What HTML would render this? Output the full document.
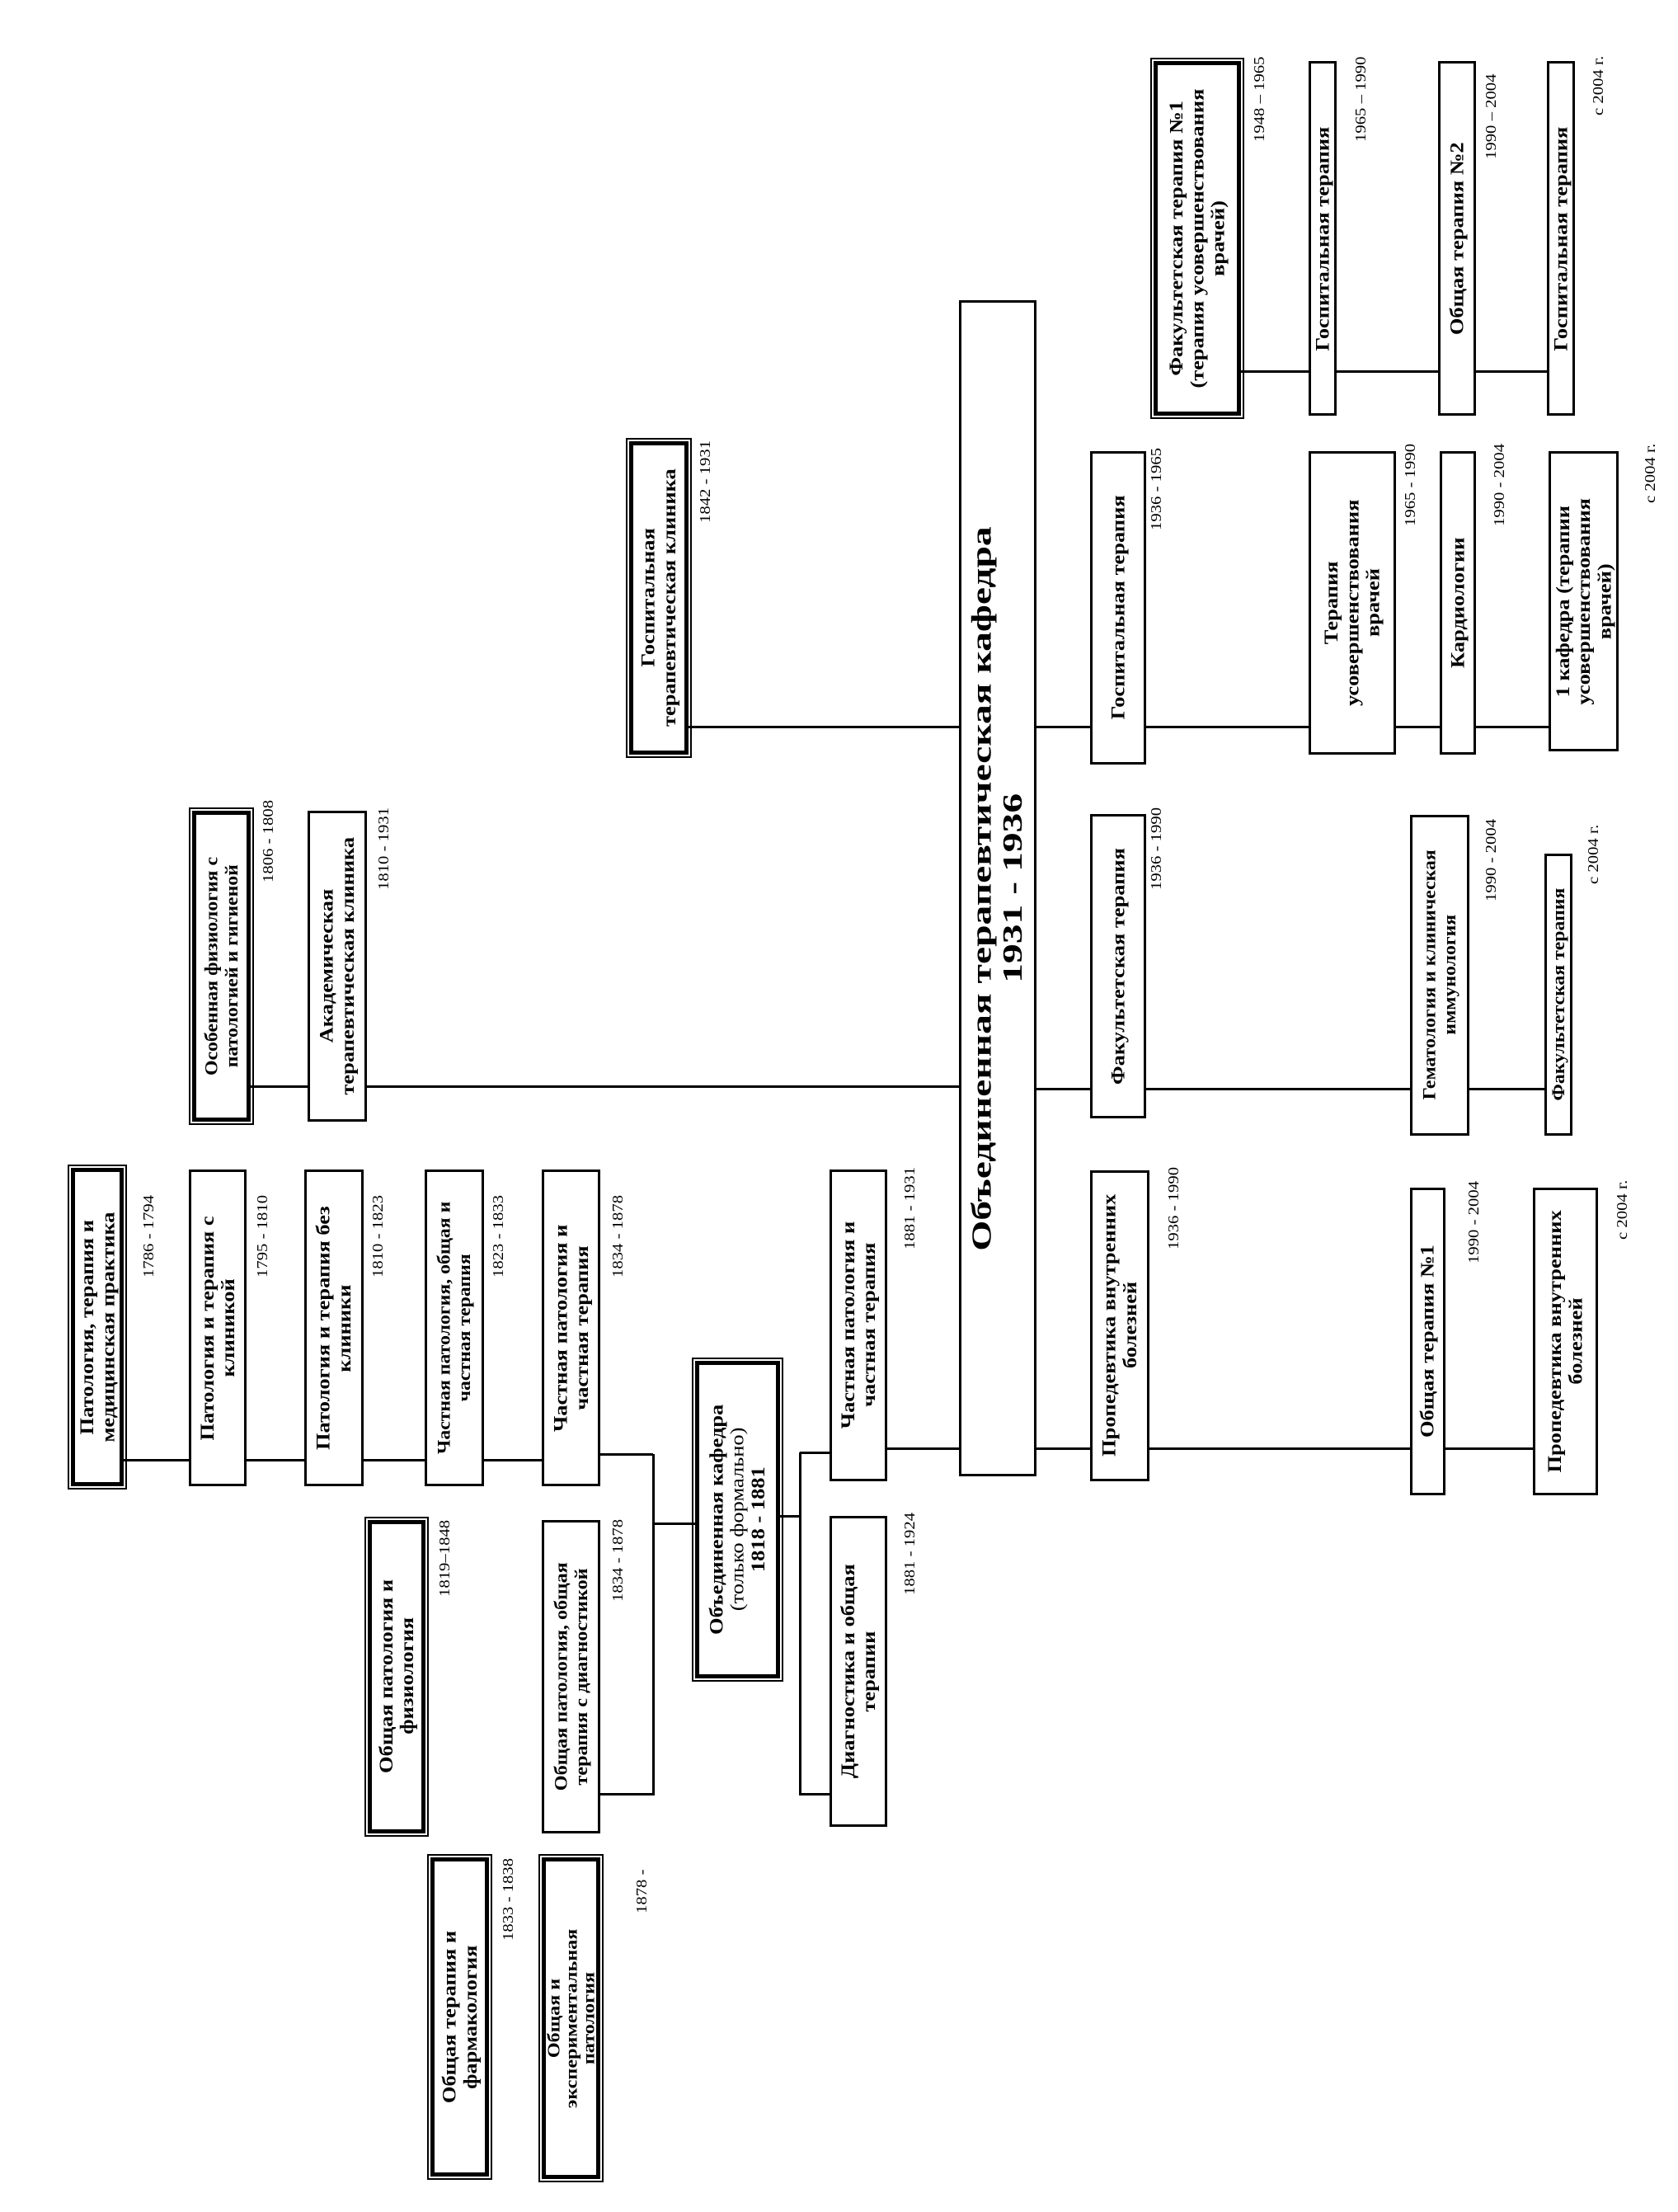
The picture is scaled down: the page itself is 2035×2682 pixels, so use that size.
<!DOCTYPE html>
<html><head><meta charset="utf-8">
<style>
html,body{margin:0;padding:0;background:#fff;}
body{width:2035px;height:2682px;position:relative;overflow:hidden;font-family:"Liberation Serif",serif;}
.b{position:absolute;box-sizing:border-box;border:3px solid #000;background:#fff;}
.b.d{border:5px solid #000;outline:2px solid #000;outline-offset:2px;}
.t{position:absolute;left:0;top:0;width:100%;height:100%;writing-mode:vertical-rl;text-orientation:sideways;transform:rotate(180deg);display:flex;align-items:center;justify-content:center;text-align:center;font-weight:bold;font-size:23px;line-height:1.1;color:#000;font-family:"Liberation Serif",serif;}
.t > span{display:inline-block;white-space:nowrap;transform:scaleY(1.15);}
.dt{position:absolute;writing-mode:vertical-rl;text-orientation:sideways;transform:rotate(180deg);text-align:right;font-size:18px;white-space:nowrap;color:#000;line-height:1;}
.dt span{display:inline-block;transform:scaleY(1.15);transform-origin:center top;}
.h{position:absolute;height:3px;background:#000;}
.v{position:absolute;width:3px;background:#000;}
</style></head><body>
<div id="c"></div>
<script>
var S=2035/1190;
var c=document.getElementById('c');
function box(x1,y1,x2,y2,txt,dbl,fs,sc,lh){
 var d=document.createElement('div');d.className='b'+(dbl?' d':'');
 d.style.left=(x1*S)+'px';d.style.top=(y1*S)+'px';d.style.width=((x2-x1)*S)+'px';d.style.height=((y2-y1)*S)+'px';
 var t=document.createElement('div');t.className='t';if(fs){t.style.fontSize=fs+'px';}if(lh)t.style.lineHeight=lh;
 var s=document.createElement('span');s.innerHTML=txt;if(sc)s.style.transform='scaleY('+sc+')';
 t.appendChild(s);d.appendChild(t);c.appendChild(d);
}
function dt(x,y,txt){
 var d=document.createElement('div');d.className='dt';
 d.style.left=(x*S-9)+'px';d.style.top=(y*S)+'px';d.style.height='140px';
 var s=document.createElement('span');s.textContent=txt;d.appendChild(s);c.appendChild(d);
}
function h(x1,x2,y){var d=document.createElement('div');d.className='h';d.style.left=(x1*S)+'px';d.style.top=(y*S-1)+'px';d.style.width=((x2-x1)*S)+'px';c.appendChild(d);}
function v(x,y1,y2){var d=document.createElement('div');d.className='v';d.style.left=(x*S-1)+'px';d.style.top=(y1*S)+'px';d.style.height=((y2-y1)*S+2)+'px';c.appendChild(d);}

[[88,134,1035],[175,216,1035],[258,301,1035],[343,384,1035],[426,463,1031],[426,463,1272],[463,493,1080],[553,567,1075],[567,588,1030],[567,588,1272],[629,680,1027],[178,218,770],[260,680,770],[488,680,515],[735,773,515],[735,773,772],[735,773,1027],[813,928,515],[990,1021,515],[1047,1098,515],[813,1000,772],[1042,1095,772],[815,1000,1027],[1025,1087,1027],[880,928,263],[948,1020,263],[1047,1097,263]].forEach(function(a){h(a[0],a[1],a[2]);});
v(463,1031,1272);v(567,1030,1272);

box(50,828,88,1054,'Патология, терапия и<br>медицинская практика',1);dt(105,855,'1786 - 1794');
box(134,829,175,1054,'Патология и терапия с<br>клиникой');dt(186,855,'1795 - 1810');
box(216,829,258,1054,'Патология и терапия без<br>клиники');dt(268,855,'1810 - 1823');
box(301,829,343,1054,'Частная патология, общая и<br>частная терапия',0,22,1.08);dt(353,855,'1823 - 1833');
box(384,829,426,1054,'Частная патология и<br>частная терапия');dt(438,855,'1834 - 1878');
box(261,1078,302,1300,'Общая патология и<br>физиология',1);dt(315,1085,'1819–1848');
box(384,1078,426,1300,'Общая патология, общая<br>терапия с диагностикой',0,22,1.1);dt(438,1085,'1834 - 1878');
box(305,1317,347,1543,'Общая терапия и<br>фармакология',1);dt(360,1325,'1833 - 1838');
box(384,1317,426,1545,'Общая и<br>экспериментальная<br>патология',1,21,1.15,1.0);dt(455,1330,'1878 -');
box(493,965,553,1190,'Объединенная кафедра<br><span style="font-weight:normal">(только формально)</span><br>1818 - 1881',1);
box(588,829,629,1050,'Частная патология и<br>частная терапия');dt(645,835,'1881 - 1931');
box(588,1075,629,1295,'Диагностика и общая<br>терапии');dt(645,1080,'1881 - 1924');
box(136,575,178,795,'Особенная физиология с<br>патологией и гигиеной',1,22,1.08);dt(190,575,'1806 - 1808');
box(218,575,260,795,'Академическая<br>терапевтическая клиника');dt(272,580,'1810 - 1931');
box(446,313,488,535,'Госпитальная<br>терапевтическая клиника',1);dt(500,320,'1842 - 1931');
box(680,213,735,1047,'Объединенная терапевтическая кафедра<br>1931 - 1936',0,34,1.4);
box(773,320,813,542,'Госпитальная терапия');dt(820,325,'1936 - 1965');
box(773,577,813,793,'Факультетская терапия');dt(820,580,'1936 - 1990');
box(773,830,815,1050,'Пропедевтика внутренних<br>болезней');dt(832,835,'1936 - 1990');
box(928,320,990,535,'Терапия<br>усовершенствования<br>врачей');dt(1000,322,'1965 - 1990');
box(1021,320,1047,535,'Кардиологии');dt(1063,322,'1990 - 2004');
box(1098,320,1148,533,'1 кафедра (терапии<br>усовершенствования<br>врачей)');dt(1170,320,'с 2004 г.');
box(1000,578,1042,805,'Гематология и клиническая<br>иммунология',0,22,1.08);dt(1057,588,'1990 - 2004');
box(1095,605,1115,805,'Факультетская терапия',0,22,1.08);dt(1130,590,'с 2004 г.');
box(1000,842,1025,1060,'Общая терапия №1');dt(1045,845,'1990 - 2004');
box(1087,842,1133,1060,'Пропедевтика внутренних<br>болезней');dt(1150,842,'с 2004 г.');
box(818,43,880,295,'Факультетская терапия №1<br>(терапия усовершенствования<br>врачей)',1);dt(893,48,'1948 – 1965');
box(928,43,948,295,'Госпитальная терапия');dt(965,48,'1965 – 1990');
box(1020,43,1047,295,'Общая терапия №2');dt(1057,60,'1990 – 2004');
box(1097,43,1117,295,'Госпитальная терапия');dt(1133,45,'с 2004 г.');
</script>
</body></html>
